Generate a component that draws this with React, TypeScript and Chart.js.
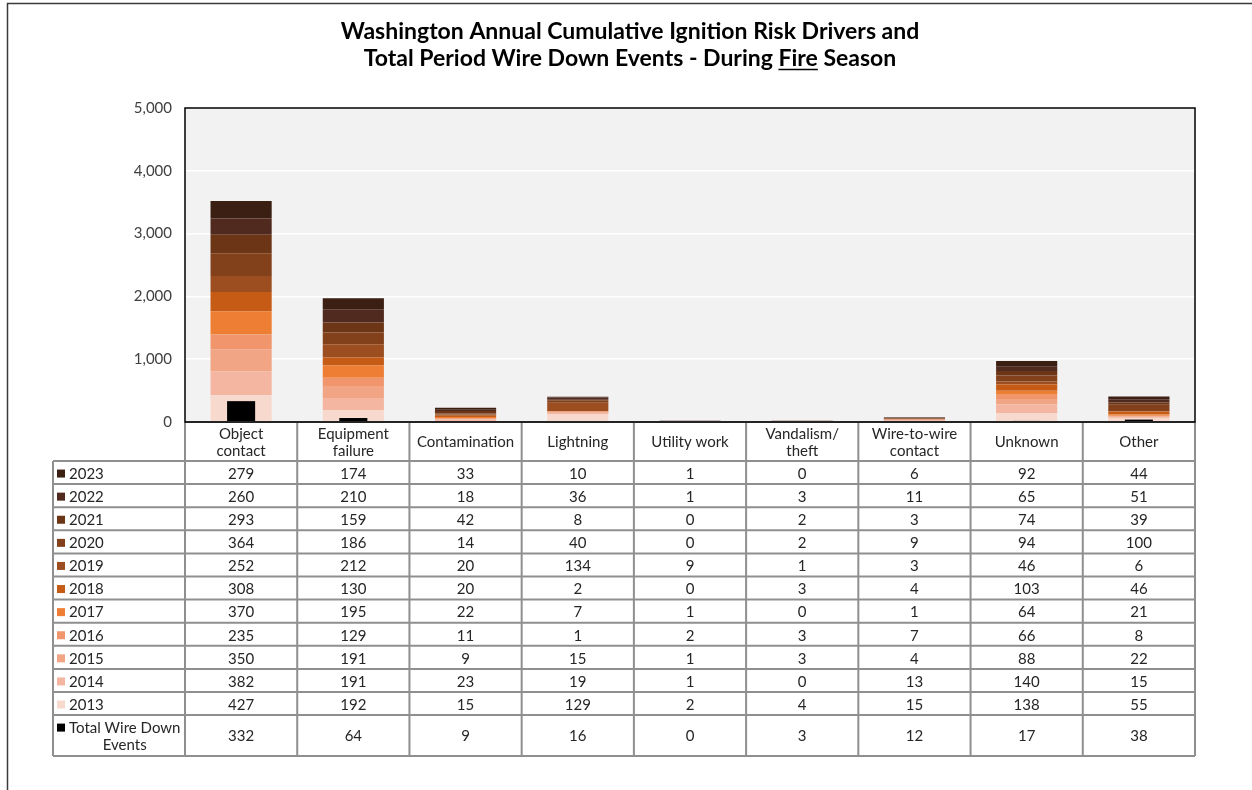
import React, { useEffect, useRef } from "react";
import { Chart, registerables } from "chart.js";
Chart.register(...registerables);

const categories: string[][] = [
  ["Object", "contact"],
  ["Equipment", "failure"],
  ["Contamination"],
  ["Lightning"],
  ["Utility work"],
  ["Vandalism/", "theft"],
  ["Wire-to-wire", "contact"],
  ["Unknown"],
  ["Other"],
];

const years = ["2013", "2014", "2015", "2016", "2017", "2018", "2019", "2020", "2021", "2022", "2023"];

const v2013 = [427, 192, 15, 129, 2, 4, 15, 138, 55];
const v2014 = [382, 191, 23, 19, 1, 0, 13, 140, 15];
const v2015 = [350, 191, 9, 15, 1, 3, 4, 88, 22];
const v2016 = [235, 129, 11, 1, 2, 3, 7, 66, 8];
const v2017 = [370, 195, 22, 7, 1, 0, 1, 64, 21];
const v2018 = [308, 130, 20, 2, 0, 3, 4, 103, 46];
const v2019 = [252, 212, 20, 134, 9, 1, 3, 46, 6];
const v2020 = [364, 186, 14, 40, 0, 2, 9, 94, 100];
const v2021 = [293, 159, 42, 8, 0, 2, 3, 74, 39];
const v2022 = [260, 210, 18, 36, 1, 3, 11, 65, 51];
const v2023 = [279, 174, 33, 10, 1, 0, 6, 92, 44];
const totalWireDown = [332, 64, 9, 16, 0, 3, 12, 17, 38];

const yearValues = [v2013, v2014, v2015, v2016, v2017, v2018, v2019, v2020, v2021, v2022, v2023];
const yearColors = [
  "#F8D9CE", "#F4B6A0", "#F2A585", "#F0956C", "#EE7E33", "#C65B15",
  "#9D4E20", "#82411B", "#6B3516", "#512A1F", "#3B1F12",
];
const totalLabel = ["Total Wire Down", "Events"];
const totalColor = "#000000";
const yTicks = [0, 1000, 2000, 3000, 4000, 5000];

const titleLine1 = "Washington Annual Cumulative Ignition Risk Drivers and";
const titleLine2Pre = "Total Period Wire Down Events - During ";
const titleLine2Under = "Fire";
const titleLine2Post = " Season";

const FONT = "Lato, 'Noto Sans', sans-serif";

const framePlugin = {
  id: "frameAndTable",
  beforeDraw(chart: any) {
    const { ctx, chartArea: a, width, height } = chart;
    ctx.save();
    ctx.fillStyle = "#ffffff";
    ctx.fillRect(0, 0, width, height);
    ctx.fillStyle = "#F2F2F2";
    ctx.fillRect(a.left, a.top, a.right - a.left, a.bottom - a.top);
    ctx.strokeStyle = "#3a3a3a";
    ctx.lineWidth = 1.5;
    ctx.beginPath();
    ctx.moveTo(7.5, height);
    ctx.lineTo(7.5, 3.5);
    ctx.lineTo(width, 3.5);
    ctx.stroke();
    ctx.restore();
  },
  afterDraw(chart: any) {
    const { ctx, chartArea: a } = chart;
    const xs = chart.scales.x;
    ctx.save();

    // Title
    const cx = 630;
    ctx.fillStyle = "#000000";
    ctx.font = `bold 23px ${FONT}`;
    ctx.textBaseline = "middle";
    ctx.textAlign = "center";
    ctx.fillText(titleLine1, cx, 31.5);
    const wPre = ctx.measureText(titleLine2Pre).width;
    const wUnder = ctx.measureText(titleLine2Under).width;
    const wPost = ctx.measureText(titleLine2Post).width;
    const total = wPre + wUnder + wPost;
    let sx = cx - total / 2;
    ctx.textAlign = "left";
    ctx.fillText(titleLine2Pre, sx, 58.5);
    ctx.fillText(titleLine2Under, sx + wPre, 58.5);
    ctx.fillText(titleLine2Post, sx + wPre + wUnder, 58.5);
    ctx.strokeStyle = "#000000";
    ctx.lineWidth = 1.5;
    ctx.beginPath();
    ctx.moveTo(sx + wPre, 69.5);
    ctx.lineTo(sx + wPre + wUnder, 69.5);
    ctx.stroke();

    // Table geometry
    const n = categories.length;
    const colW = (a.right - a.left) / n;
    const headerTop = a.bottom;
    const headerH = 39;
    const rowH = 23.1;
    const totalH = 41;
    const dataTop = headerTop + headerH;
    const tableLeft = 53;
    const nRows = years.length;
    const totalTop = dataTop + rowH * nRows;
    const tableBottom = totalTop + totalH;

    ctx.strokeStyle = "#8f8f8f";
    ctx.lineWidth = 2;
    ctx.beginPath();
    for (let i = 0; i <= n; i++) {
      const x = a.left + colW * i;
      ctx.moveTo(x, headerTop);
      ctx.lineTo(x, tableBottom);
    }
    ctx.moveTo(tableLeft, dataTop);
    ctx.lineTo(tableLeft, tableBottom);
    ctx.moveTo(a.left, headerTop);
    ctx.lineTo(a.right, headerTop);
    for (let r = 0; r <= nRows; r++) {
      const y = dataTop + rowH * r;
      ctx.moveTo(tableLeft, y);
      ctx.lineTo(a.right, y);
    }
    ctx.moveTo(tableLeft, tableBottom);
    ctx.lineTo(a.right, tableBottom);
    ctx.stroke();

    ctx.fillStyle = "#262626";
    ctx.font = `15px ${FONT}`;
    ctx.textBaseline = "middle";
    ctx.textAlign = "center";
    for (let i = 0; i < n; i++) {
      const x = xs.getPixelForValue(i);
      const lines = categories[i];
      const mid = headerTop + headerH / 2 + 1;
      if (lines.length === 1) {
        ctx.fillText(lines[0], x, mid);
      } else {
        ctx.fillText(lines[0], x, mid - 8.5);
        ctx.fillText(lines[1], x, mid + 8.5);
      }
    }
    for (let r = 0; r < nRows; r++) {
      const yi = nRows - 1 - r;
      const y = dataTop + rowH * r + rowH / 2 + 1.5;
      ctx.fillStyle = yearColors[yi];
      ctx.fillRect(tableLeft + 4, y - 4.5, 8, 8);
      ctx.fillStyle = "#262626";
      ctx.textAlign = "left";
      ctx.fillText(years[yi], tableLeft + 16, y);
      ctx.textAlign = "center";
      for (let i = 0; i < n; i++) {
        ctx.fillText(String(yearValues[yi][i]), xs.getPixelForValue(i), y);
      }
    }
    const tMid = totalTop + totalH / 2 + 1;
    ctx.fillStyle = totalColor;
    ctx.fillRect(tableLeft + 4, tMid - 8.5 - 4.5, 8, 8);
    ctx.fillStyle = "#262626";
    ctx.textAlign = "left";
    ctx.fillText(totalLabel[0], tableLeft + 16, tMid - 8.5);
    const tw = ctx.measureText(totalLabel[0]).width;
    ctx.textAlign = "center";
    ctx.fillText(totalLabel[1], tableLeft + 16 + tw / 2, tMid + 8.5);
    for (let i = 0; i < n; i++) {
      ctx.fillText(String(totalWireDown[i]), xs.getPixelForValue(i), tMid);
    }

    ctx.strokeStyle = "#000000";
    ctx.lineWidth = 1.5;
    ctx.strokeRect(a.left, a.top, a.right - a.left, a.bottom - a.top);
    ctx.restore();
  },
};

export default function App() {
  const ref = useRef<HTMLCanvasElement | null>(null);
  useEffect(() => {
    if (!ref.current) return;
    const datasets: any[] = [
      {
        label: "Total Wire Down Events",
        data: totalWireDown,
        backgroundColor: totalColor,
        stack: "total",
        grouped: false,
        order: -1,
        barPercentage: 0.25,
        categoryPercentage: 1,
      },
      ...years.map((y, i) => ({
        label: y,
        data: yearValues[i],
        backgroundColor: yearColors[i],
        stack: "years",
        barPercentage: 0.545,
        categoryPercentage: 1,
        borderWidth: 0,
      })),
    ];
    const chart = new Chart(ref.current, {
      type: "bar",
      data: { labels: categories.map((c) => c.join(" ")), datasets },
      options: {
        animation: false,
        responsive: false,
        devicePixelRatio: 1,
        layout: { padding: { top: 108, bottom: 368, right: 57, left: 0 } },
        plugins: {
          legend: { display: false },
          tooltip: { enabled: false },
          title: { display: false },
        },
        scales: {
          x: { stacked: true, display: false },
          y: {
            stacked: true,
            min: 0,
            max: 5000,
            afterFit: (s: any) => {
              s.width = 185;
            },
            afterBuildTicks: (s: any) => {
              s.ticks = yTicks.map((v) => ({ value: v }));
            },
            ticks: {
              padding: 13,
              color: "#404040",
              font: { family: FONT, size: 15 },
              callback: (v: any) => Number(v).toLocaleString("en-US"),
            },
            grid: { color: "#ffffff", lineWidth: 1.5, drawTicks: false },
            border: { display: false },
          },
        },
      } as any,
      plugins: [framePlugin],
    });
    return () => chart.destroy();
  }, []);
  return (
    <div style={{ position: "absolute", left: 0, top: 0, width: 1252, height: 790 }}>
      <canvas ref={ref} width={1252} height={790} style={{ width: 1252, height: 790, display: "block" }} />
    </div>
  );
}
